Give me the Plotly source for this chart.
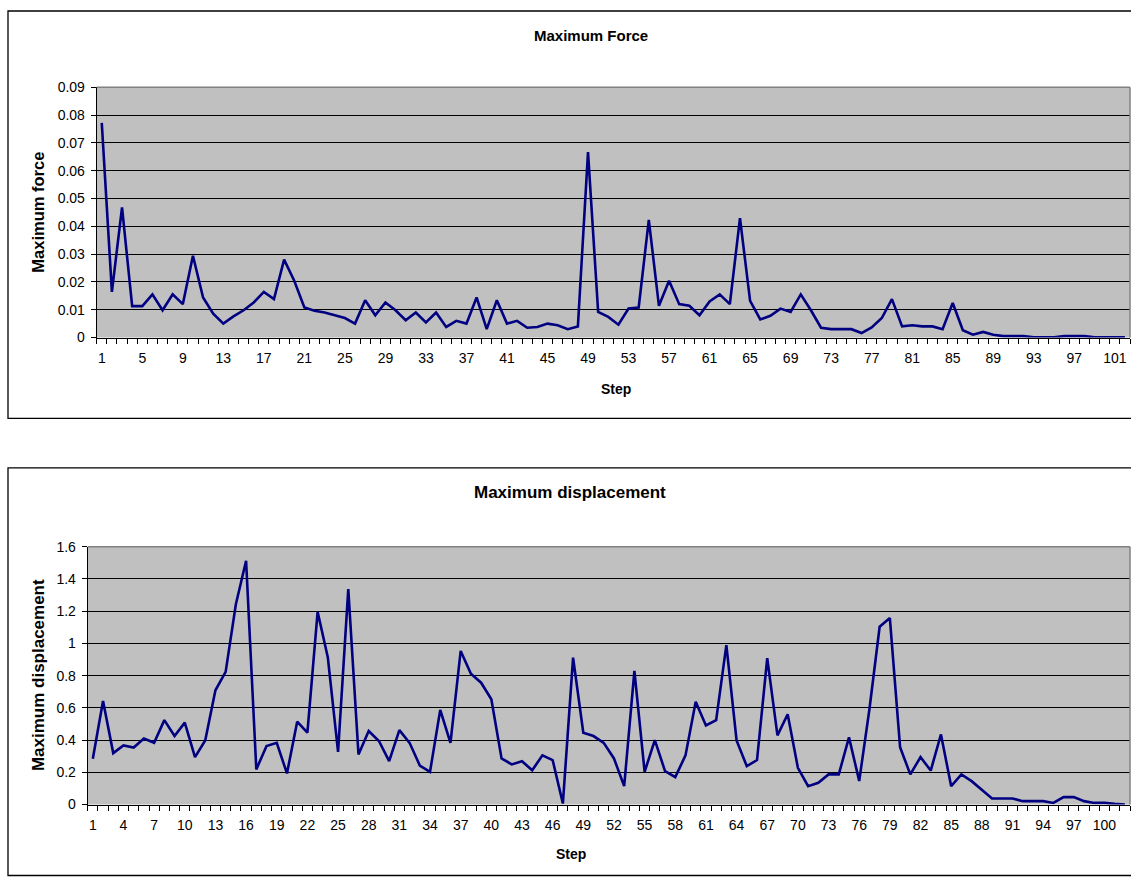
import plotly.graph_objects as go

steps = list(range(1, 103))

max_force = [
    0.0772, 0.0164, 0.0468, 0.0113, 0.0113, 0.0155, 0.0098, 0.0155, 0.0120, 0.0294,
    0.0144, 0.0086, 0.0050, 0.0076, 0.0098, 0.0126, 0.0164, 0.0138, 0.0280, 0.0204,
    0.0108, 0.0096, 0.0090, 0.0080, 0.0070, 0.0050, 0.0134, 0.0080, 0.0126, 0.0098,
    0.0062, 0.0090, 0.0054, 0.0090, 0.0038, 0.0060, 0.0050, 0.0144, 0.0030, 0.0134,
    0.0050, 0.0060, 0.0035, 0.0038, 0.0050, 0.0044, 0.0030, 0.0040, 0.0667, 0.0092,
    0.0074, 0.0046, 0.0104, 0.0108, 0.0423, 0.0114, 0.0204, 0.0120, 0.0114, 0.0080,
    0.0130, 0.0155, 0.0120, 0.0429, 0.0132, 0.0065, 0.0078, 0.0104, 0.0092, 0.0155,
    0.0098, 0.0035, 0.0030, 0.0030, 0.0030, 0.0016, 0.0036, 0.0070, 0.0138, 0.0040,
    0.0044, 0.0040, 0.0040, 0.0030, 0.0124, 0.0026, 0.0010, 0.0020, 0.0010, 0.0005,
    0.0005, 0.0005, 0.0001, 0.0001, 0.0001, 0.0005, 0.0005, 0.0005, 0.0001, 0.0001,
    0.0001, 0.0001,
]

max_displacement = [
    0.284, 0.642, 0.319, 0.367, 0.354, 0.410, 0.383, 0.524, 0.425, 0.508,
    0.294, 0.398, 0.709, 0.823, 1.243, 1.513, 0.218, 0.363, 0.383, 0.193,
    0.514, 0.446, 1.196, 0.912, 0.327, 1.337, 0.311, 0.456, 0.394, 0.269,
    0.462, 0.383, 0.242, 0.203, 0.587, 0.383, 0.953, 0.812, 0.756, 0.653,
    0.286, 0.249, 0.269, 0.213, 0.305, 0.276, 0.006, 0.912, 0.446, 0.425,
    0.383, 0.286, 0.114, 0.829, 0.203, 0.400, 0.207, 0.170, 0.305, 0.638,
    0.491, 0.524, 0.989, 0.398, 0.238, 0.276, 0.908, 0.429, 0.560, 0.228,
    0.114, 0.135, 0.187, 0.187, 0.417, 0.146, 0.591, 1.103, 1.157, 0.356,
    0.187, 0.294, 0.211, 0.435, 0.114, 0.187, 0.145, 0.093, 0.037, 0.037,
    0.037, 0.021, 0.021, 0.021, 0.010, 0.046, 0.046, 0.021, 0.010, 0.010,
    0.004, 0.000,
]

force_ticks = list(range(1, 103, 4))
disp_ticks = list(range(1, 103, 3))

W, H = 1131, 884
FONT = "Arial, Liberation Sans, sans-serif"
LINE_COLOR = "#000080"
TICK_SIZE = 14

# the page is photographed with a slight vertical squeeze/offset; compensate
V_SCALE, V_OFF = 0.981, 7.5


def px(x):
    return x / W


def py(y):
    yf = (y - V_OFF) / V_SCALE
    yf = min(max(yf, 0.5), H - 0.5)
    return 1 - yf / H


fig = go.Figure()
fig.add_trace(go.Scatter(x=steps, y=max_force, mode="lines",
                         line=dict(color=LINE_COLOR, width=2.6),
                         xaxis="x", yaxis="y", showlegend=False))
fig.add_trace(go.Scatter(x=steps, y=max_displacement, mode="lines",
                         line=dict(color=LINE_COLOR, width=2.6),
                         xaxis="x2", yaxis="y2", showlegend=False))

top_plot = dict(l=96.7, r=1130, t=86.7, b=336.7)
bot_plot = dict(l=87.7, r=1130, t=545.7, b=803.3)


def xaxis_cfg(domain, ticks, anchor):
    return dict(
        domain=domain, anchor=anchor, range=[0.5, 102.5],
        tickmode="array", tickvals=ticks, ticktext=[str(t) for t in ticks],
        ticks="", showgrid=False, zeroline=False,
        showline=True, linecolor="black", linewidth=1,
        tickfont=dict(family=FONT, size=TICK_SIZE, color="black"),
        ticklabelstandoff=8,
        minor=dict(ticks="outside", ticklen=5, tickcolor="black", tickwidth=1,
                   tick0=0.5, dtick=1, showgrid=False),
    )


def yaxis_cfg(domain, rng, dtick, anchor):
    return dict(
        domain=domain, anchor=anchor, range=rng, dtick=dtick, tick0=0,
        ticks="outside", ticklen=5, tickcolor="black", tickwidth=1,
        showgrid=True, gridcolor="black", gridwidth=1, zeroline=False,
        showline=True, linecolor="black", linewidth=1,
        tickfont=dict(family=FONT, size=TICK_SIZE, color="black"),
        ticklabelstandoff=3,
    )


fig.update_layout(
    width=W, height=H, autosize=False,
    margin=dict(l=0, r=0, t=0, b=0),
    paper_bgcolor="white", plot_bgcolor="#C0C0C0",
    font=dict(family=FONT, color="black"),
    xaxis=xaxis_cfg([px(top_plot["l"]), px(top_plot["r"])], force_ticks, "y"),
    yaxis=yaxis_cfg([py(top_plot["b"]), py(top_plot["t"])], [0, 0.09], 0.01, "x"),
    xaxis2=xaxis_cfg([px(bot_plot["l"]), px(bot_plot["r"])], disp_ticks, "y2"),
    yaxis2=yaxis_cfg([py(bot_plot["b"]), py(bot_plot["t"])], [0, 1.6], 0.2, "x2"),
)

shapes = []
shapes.append(dict(type="rect", xref="paper", yref="paper",
                   x0=px(8), x1=px(1135), y0=py(417.5), y1=py(10.5),
                   line=dict(color="black", width=1.3), fillcolor="rgba(0,0,0,0)"))
shapes.append(dict(type="rect", xref="paper", yref="paper",
                   x0=px(8), x1=px(1135), y0=py(877), y1=py(467),
                   line=dict(color="black", width=1.3), fillcolor="rgba(0,0,0,0)"))
for p in (top_plot, bot_plot):
    shapes.append(dict(type="line", xref="paper", yref="paper",
                       x0=px(p["l"]), x1=px(p["r"]), y0=py(p["t"]), y1=py(p["t"]),
                       line=dict(color="#808080", width=1.5)))
    shapes.append(dict(type="line", xref="paper", yref="paper",
                       x0=px(p["r"]), x1=px(p["r"]), y0=py(p["t"]), y1=py(p["b"]),
                       line=dict(color="#808080", width=1.5)))
fig.update_layout(shapes=shapes)

annots = [
    ("Maximum Force", 591, 35, 0, 15),
    ("Maximum force", 38, 212, -90, 16.5),
    ("Step", 616, 388, 0, 14),
    ("Maximum displacement", 570, 492, 0, 17),
    ("Maximum displacement", 38, 674, -90, 17),
    ("Step", 571, 853, 0, 14),
]
for text, x, y, ang, size in annots:
    fig.add_annotation(text=f"<b>{text}</b>", xref="paper", yref="paper",
                       x=px(x), y=py(y), xanchor="center", yanchor="middle",
                       textangle=ang, showarrow=False,
                       font=dict(family=FONT, size=size, color="black"))

fig.write_html(
    "out.html",
    config={"displayModeBar": False},
    post_script=(
        "document.documentElement.style.margin='0';"
        "document.documentElement.style.padding='0';"
        "document.body.style.margin='0';"
        "document.body.style.padding='0';"
        "document.documentElement.style.overflow='hidden';"
        "document.body.style.overflow='hidden';"
        "var gd=document.getElementById('{plot_id}');"
        "gd.style.position='fixed';gd.style.top='0px';gd.style.left='0px';"
    ),
)
